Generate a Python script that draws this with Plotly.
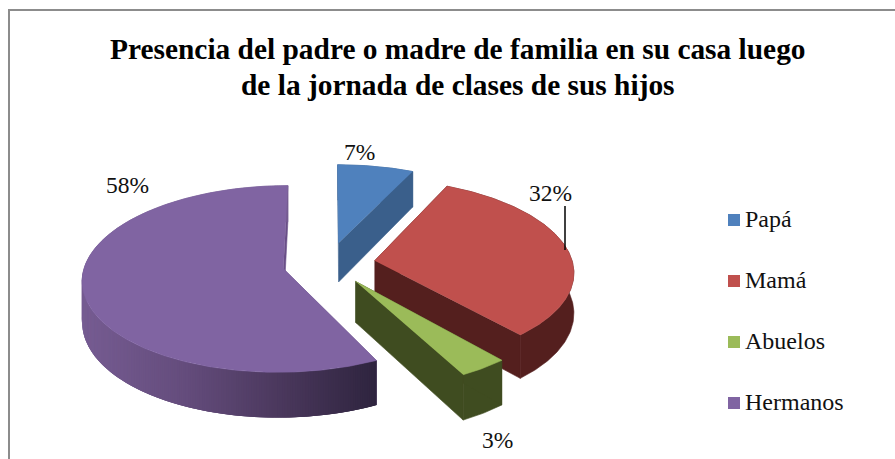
import numpy as np
import plotly.graph_objects as go

# ---- data ----
categories = ["Papá", "Mamá", "Abuelos", "Hermanos"]
values = [7, 32, 3, 58]
value_labels = ["7%", "32%", "3%", "58%"]
title_lines = ["Presencia del padre o madre de familia en su casa luego",
               "de la jornada de clases de sus hijos"]

# ---- styles ----
top_colors = ["#4f81bd", "#c0504d", "#9bbb59", "#8064a2"]
wall_colors = ["#3a5f8b", "#541f1e", "#3f4c20", None]
purple_wall_stops = [(0.0, (118, 92, 146)), (0.35, (100, 76, 124)),
                     (0.7, (72, 54, 90)), (1.0, (46, 36, 62))]
FONT = "Liberation Serif"
TEXT = "#111111"

# 3D projection parameters of the exploded pie
CX, CY, RX, RY = 328.7, 263.3, 198.0, 91.0
PERSP = 0.11
PULL = 0.235
DEPTH = 40.0
# small per-slice angular corrections of the rendered edges (degrees)
edge_shift_start = [0.0, 0.0, -1.0, 2.5]
edge_shift_end = [0.0, -1.5, 1.0, 0.0]


def project(u, v, down=0.0):
    s = 1.0 / (1.0 + PERSP * v)
    return CX + RX * u * s, CY - RY * v * s + down * s


def slice_geometry(a0, a1, d0, d1):
    mid = np.radians((a0 + a1) / 2)
    pu, pv = PULL * np.sin(mid), PULL * np.cos(mid)
    th = np.radians(np.linspace(a0 + d0, a1 + d1, max(12, int(abs(a1 - a0) * 1.5))))
    return pu, pv, pu + np.sin(th), pv + np.cos(th)


def poly(x, y, color, width=0.6):
    return go.Scatter(x=list(x), y=list(y), mode="lines", fill="toself",
                      fillcolor=color, line=dict(color=color, width=width),
                      hoverinfo="skip", showlegend=False)


def lerp_color(t):
    for (t0, c0), (t1, c1) in zip(purple_wall_stops, purple_wall_stops[1:]):
        if t <= t1:
            f = (t - t0) / (t1 - t0)
            return "rgb(%d,%d,%d)" % tuple(round(a + (b - a) * f) for a, b in zip(c0, c1))
    return "rgb(%d,%d,%d)" % purple_wall_stops[-1][1]


fig = go.Figure()
angles = np.concatenate([[0], np.cumsum(values) * 360.0 / sum(values)])
order = [0, 3, 1, 2]
for i in order:
    a0, a1 = angles[i], angles[i + 1]
    pu, pv, u, v = slice_geometry(a0, a1, edge_shift_start[i], edge_shift_end[i])
    xt, yt = project(u, v)
    xb, yb = project(u, v, DEPTH)
    ax, ay = project(pu, pv)
    bx, by = project(pu, pv, DEPTH)

    if wall_colors[i]:
        c = wall_colors[i]
        fig.add_trace(poly(list(xt) + list(xb[::-1]), list(yt) + list(yb[::-1]), c))
        fig.add_trace(poly([ax, xt[0], xb[0], bx], [ay, yt[0], yb[0], by], c))
        fig.add_trace(poly([ax, xt[-1], xb[-1], bx], [ay, yt[-1], yb[-1], by], c))
    else:
        # the large slice: shaded rim, darker towards the front right
        fig.add_trace(poly([ax, xt[-1], xb[-1], bx], [ay, yt[-1], yb[-1], by], "#6a5088"))
        fig.add_trace(poly([ax, xt[0], xb[0], bx], [ay, yt[0], yb[0], by], "#6a5088"))
        left = int(np.argmin(xb))
        lo, hi = xb[left], xb[0]
        for k in range(left, len(u) - 1):
            fig.add_trace(poly([xt[k], xt[k + 1], xb[k + 1], xb[k]],
                               [yt[k], yt[k + 1], yb[k + 1], yb[k]], lerp_color(0.0)))
        for k in range(left, 0, -1):
            t = float(np.clip((xb[k] - lo) / (hi - lo), 0, 1))
            j = max(k - 3, 0)
            fig.add_trace(poly([xt[k], xt[j], xb[j], xb[k]],
                               [yt[k], yt[j], yb[j], yb[k]], lerp_color(t), width=0))
    fig.add_trace(poly([ax] + list(xt), [ay] + list(yt), top_colors[i]))

annotations = []
# title
title_y = [49, 85]
for line, ty in zip(title_lines, title_y):
    annotations.append(dict(x=457.5, y=ty, xref="x", yref="y", showarrow=False,
                            text="<b>" + line + "</b>",
                            font=dict(family=FONT, size=29.4, color="#000000"),
                            xanchor="center", yanchor="middle", align="center"))
# value labels
label_pos = [(359, 152), (550, 193), (497, 440), (127, 185)]
for txt, (lx, ly) in zip(value_labels, label_pos):
    annotations.append(dict(x=lx, y=ly, xref="x", yref="y", showarrow=False, text=txt,
                            font=dict(family=FONT, size=23.5, color=TEXT),
                            xanchor="center", yanchor="middle"))
# legend
legend_y = [220, 281, 342, 403]
fig.add_trace(go.Scatter(x=[734] * 4, y=legend_y, mode="markers",
                         marker=dict(symbol="square", size=12, color=top_colors),
                         hoverinfo="skip", showlegend=False))
for name, ly in zip(categories, legend_y):
    annotations.append(dict(x=743, y=ly - 1, xref="x", yref="y", showarrow=False, text=name,
                            font=dict(family=FONT, size=24, color=TEXT),
                            xanchor="left", yanchor="middle"))

shapes = [
    dict(type="line", x0=565, x1=565, y0=206, y1=250, xref="x", yref="y",
         line=dict(color="#000000", width=1.5)),
    dict(type="path", path="M 9 470 L 9 10 L 905 10", xref="x", yref="y",
         line=dict(color="#8c8c8c", width=2)),
]

fig.update_layout(
    width=895, height=459, margin=dict(l=0, r=0, t=0, b=0),
    paper_bgcolor="white", plot_bgcolor="white", showlegend=False,
    xaxis=dict(range=[0, 895], visible=False, fixedrange=True),
    yaxis=dict(range=[459, 0], visible=False, fixedrange=True),
    annotations=annotations, shapes=shapes,
)
fig.write_html("out.html", config=dict(displayModeBar=False),
               post_script="document.body.style.margin='0';document.body.style.overflow='hidden';")
